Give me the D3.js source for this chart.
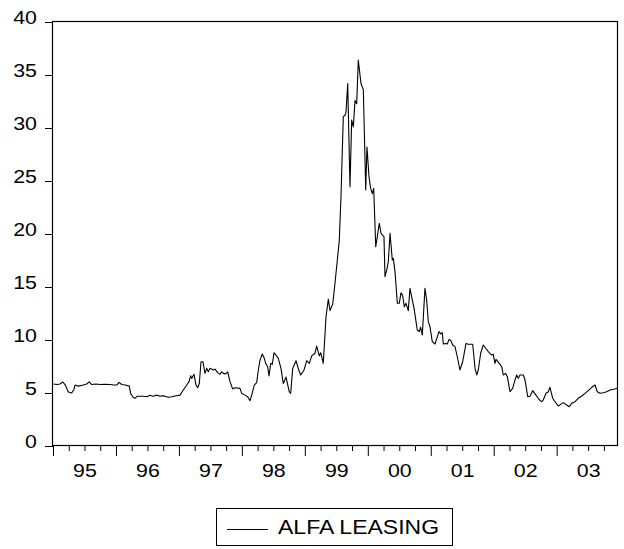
<!DOCTYPE html>
<html>
<head>
<meta charset="utf-8">
<script src="https://cdn.jsdelivr.net/npm/d3@7"></script>
<style>
  body { margin: 0; background: #fff; }
  text { font-family: "Liberation Sans", Arial, sans-serif; fill: #000; }
</style>
</head>
<body>
<svg id="chart" width="624" height="549"></svg>
<script>
// weekly-ish readings of the series (decimal year, value)
var years = [
  1995.005, 1995.064, 1995.111, 1995.154, 1995.191, 1995.243, 1995.297, 1995.334, 1995.349, 1995.402,
  1995.481, 1995.535, 1995.577, 1995.615, 1995.683, 1995.747, 1995.826, 1995.905, 1995.969, 1996.012,
  1996.048, 1996.091, 1996.144, 1996.212, 1996.234, 1996.271, 1996.302, 1996.339, 1996.434, 1996.493,
  1996.541, 1996.588, 1996.647, 1996.700, 1996.752, 1996.831, 1996.890, 1996.938, 1997.017, 1997.070,
  1997.124, 1997.160, 1997.187, 1997.203, 1997.240, 1997.271, 1997.298, 1997.324, 1997.351, 1997.382,
  1997.414, 1997.441, 1997.467, 1997.494, 1997.546, 1997.573, 1997.616, 1997.652, 1997.679, 1997.705,
  1997.743, 1997.775, 1997.811, 1997.854, 1997.891, 1997.970, 1997.997, 1998.050, 1998.092, 1998.129,
  1998.156, 1998.197, 1998.235, 1998.261, 1998.288, 1998.324, 1998.356, 1998.378, 1998.410, 1998.431,
  1998.458, 1998.483, 1998.510, 1998.542, 1998.578, 1998.621, 1998.658, 1998.701, 1998.753, 1998.775,
  1998.807, 1998.860, 1998.896, 1998.934, 1998.987, 1999.030, 1999.071, 1999.109, 1999.161, 1999.188,
  1999.230, 1999.252, 1999.293, 1999.336, 1999.373, 1999.400, 1999.443, 1999.479, 1999.516, 1999.547,
  1999.574, 1999.611, 1999.638, 1999.654, 1999.681, 1999.717, 1999.744, 1999.770, 1999.797, 1999.824,
  1999.849, 1999.892, 1999.929, 1999.967, 1999.987, 2000.019, 2000.046, 2000.072, 2000.094, 2000.126,
  2000.162, 2000.183, 2000.210, 2000.234, 2000.257, 2000.273, 2000.300, 2000.326, 2000.353, 2000.389,
  2000.405, 2000.432, 2000.469, 2000.500, 2000.527, 2000.554, 2000.580, 2000.607, 2000.643, 2000.670,
  2000.707, 2000.734, 2000.786, 2000.818, 2000.840, 2000.866, 2000.908, 2000.935, 2000.961, 2000.988,
  2001.024, 2001.067, 2001.104, 2001.131, 2001.158, 2001.183, 2001.199, 2001.237, 2001.263, 2001.290,
  2001.321, 2001.348, 2001.385, 2001.421, 2001.464, 2001.507, 2001.560, 2001.596, 2001.666, 2001.703,
  2001.730, 2001.755, 2001.793, 2001.834, 2001.877, 2001.914, 2001.968, 2001.993, 2002.020, 2002.036,
  2002.089, 2002.127, 2002.152, 2002.190, 2002.216, 2002.259, 2002.301, 2002.338, 2002.365, 2002.390,
  2002.417, 2002.470, 2002.497, 2002.540, 2002.576, 2002.619, 2002.671, 2002.708, 2002.735, 2002.762,
  2002.787, 2002.830, 2002.867, 2002.894, 2002.937, 2002.973, 2003.026, 2003.064, 2003.105, 2003.159,
  2003.200, 2003.239, 2003.291, 2003.343, 2003.397, 2003.450, 2003.502, 2003.540, 2003.582, 2003.609,
  2003.645, 2003.688, 2003.740, 2003.794, 2003.847, 2003.910, 2003.963
]
var values = [
  5.85, 5.80, 5.85, 6.04, 5.80, 5.10, 5.00, 5.35, 5.75, 5.65,
  5.75, 5.85, 6.05, 5.80, 5.85, 5.80, 5.82, 5.80, 5.75, 5.75,
  6.00, 5.80, 5.75, 5.65, 4.95, 4.60, 4.50, 4.70, 4.70, 4.65,
  4.78, 4.70, 4.80, 4.70, 4.75, 4.60, 4.65, 4.72, 4.80, 5.28,
  5.75, 6.07, 6.63, 6.38, 6.76, 5.75, 5.50, 5.92, 7.95, 7.95,
  6.85, 7.33, 7.00, 7.33, 7.17, 7.25, 6.92, 6.76, 7.00, 6.85,
  6.80, 7.00, 6.07, 5.38, 5.50, 5.44, 4.97, 4.80, 4.65, 4.27,
  4.80, 5.75, 5.97, 7.17, 8.10, 8.68, 8.27, 7.80, 7.48, 6.60,
  7.80, 7.70, 8.80, 8.58, 8.27, 7.33, 5.90, 6.50, 5.10, 4.97,
  7.30, 8.05, 7.30, 6.70, 7.17, 8.05, 7.80, 8.50, 8.75, 9.43,
  8.50, 8.80, 7.80, 12.15, 13.85, 12.77, 13.40, 15.35, 17.55, 19.40,
  23.50, 31.07, 31.20, 31.50, 34.20, 24.46, 30.75, 30.10, 32.60, 32.30,
  36.40, 34.20, 33.60, 24.15, 28.20, 25.40, 24.30, 23.80, 24.30, 18.80,
  20.20, 21.00, 20.06, 19.90, 19.75, 15.97, 16.60, 17.40, 20.06, 17.55,
  17.70, 16.45, 13.46, 13.46, 14.46, 14.20, 13.14, 13.46, 12.77, 14.88,
  13.77, 13.00, 10.94, 10.80, 11.20, 10.47, 14.88, 13.77, 11.73, 11.25,
  9.84, 9.62, 10.30, 10.80, 10.57, 10.70, 9.62, 9.68, 9.62, 10.06,
  9.93, 9.53, 9.37, 8.42, 7.17, 7.95, 9.68, 9.60, 9.60, 7.33,
  6.70, 7.17, 8.75, 9.53, 9.20, 8.90, 8.58, 8.65, 7.80, 8.18,
  7.80, 7.48, 6.70, 6.85, 6.54, 5.12, 5.44, 6.23, 6.70, 6.38,
  6.70, 6.70, 6.23, 4.65, 4.70, 5.22, 4.80, 4.50, 4.30, 4.18,
  4.34, 4.97, 5.12, 5.54, 4.50, 4.18, 3.77, 3.93, 4.09, 3.87,
  3.71, 4.03, 4.18, 4.50, 4.72, 4.97, 5.22, 5.44, 5.66, 5.75,
  5.12, 4.97, 5.03, 5.12, 5.28, 5.35, 5.44
]
var yTicks = [0, 5, 10, 15, 20, 25, 30, 35, 40]
var yearTicks = [1995, 1996, 1997, 1998, 1999, 2000, 2001, 2002, 2003]
var yearLabels = ["95", "96", "97", "98", "99", "00", "01", "02", "03"]
var seriesName = "ALFA LEASING"

var svg = d3.select("#chart")

// plot frame (window.top is reserved, so use plot* names)
var plotLeft = 53, plotRight = 618, plotTop = 22, plotBottom = 446
var x = d3.scaleLinear().domain([1995, 2003.974]).range([plotLeft, plotRight])
var y = d3.scaleLinear().domain([0, 40]).range([plotBottom, plotTop])

// y axis (ticks outward, labels sit just above each tick)
var yAxis = svg.append("g")
    .attr("transform", "translate(" + plotLeft + ",0)")
    .call(d3.axisLeft(y).tickValues(yTicks).tickSize(8).tickSizeOuter(0))
yAxis.select(".domain").remove()
yAxis.selectAll(".tick line").attr("stroke", "#000")
yAxis.selectAll(".tick text")
    .attr("x", 0).attr("dy", null)
    .attr("transform", "translate(-16,1) scale(1.22,1)")
    .attr("text-anchor", "end")
    .style("font-size", "17.5px")
    .style("font-family", "'Liberation Sans', Arial, sans-serif")

// x axis: quarter ticks short, year ticks long
var quarters = d3.range(1995, 2004, 0.25).filter(function(d) { return d % 1 !== 0 })
var qAxis = svg.append("g")
    .attr("transform", "translate(0," + plotBottom + ")")
    .call(d3.axisBottom(x).tickValues(quarters).tickSize(5).tickSizeOuter(0).tickFormat(""))
qAxis.select(".domain").remove()

var yrAxis = svg.append("g")
    .attr("transform", "translate(0," + plotBottom + ")")
    .call(d3.axisBottom(x).tickValues(yearTicks).tickSize(10).tickSizeOuter(0).tickFormat(""))
yrAxis.select(".domain").remove()

// year labels centred in each year
var labAxis = svg.append("g")
    .attr("transform", "translate(0," + plotBottom + ")")
    .call(d3.axisBottom(x).tickValues(yearTicks.map(function(d) { return d + 0.5 }))
        .tickSize(0).tickSizeOuter(0)
        .tickFormat(function(d, i) { return yearLabels[i] }))
labAxis.select(".domain").remove()
labAxis.selectAll(".tick text")
    .attr("y", 0).attr("dy", null)
    .attr("transform", "translate(0,31) scale(1.22,1)")
    .style("font-size", "17.5px")
    .style("font-family", "'Liberation Sans', Arial, sans-serif")

// box around plot
svg.append("rect")
    .attr("x", plotLeft - 0.5).attr("y", plotTop - 0.5)
    .attr("width", plotRight - plotLeft).attr("height", plotBottom - plotTop)
    .attr("fill", "none").attr("stroke", "#000").attr("stroke-width", 1.2)

// the series
var pts = years.map(function(d, i) { return [d, values[i]] })
var line = d3.line()
    .x(function(d) { return x(d[0]) })
    .y(function(d) { return y(d[1]) })
svg.append("path")
    .datum(pts)
    .attr("d", line)
    .attr("fill", "none")
    .attr("stroke", "#000")
    .attr("stroke-width", 1.1)
    .attr("stroke-linejoin", "round")

// legend
var lg = svg.append("g")
lg.append("rect")
    .attr("x", 216.5).attr("y", 508.5).attr("width", 236).attr("height", 37)
    .attr("fill", "#fff").attr("stroke", "#000").attr("stroke-width", 1)
lg.append("line")
    .attr("x1", 227).attr("x2", 268).attr("y1", 529.5).attr("y2", 529.5)
    .attr("stroke", "#000").attr("stroke-width", 1)
lg.append("text")
    .attr("transform", "translate(278,534) scale(1.15,1)")
    .style("font-size", "20px")
    .text(seriesName)
</script>
</body>
</html>
